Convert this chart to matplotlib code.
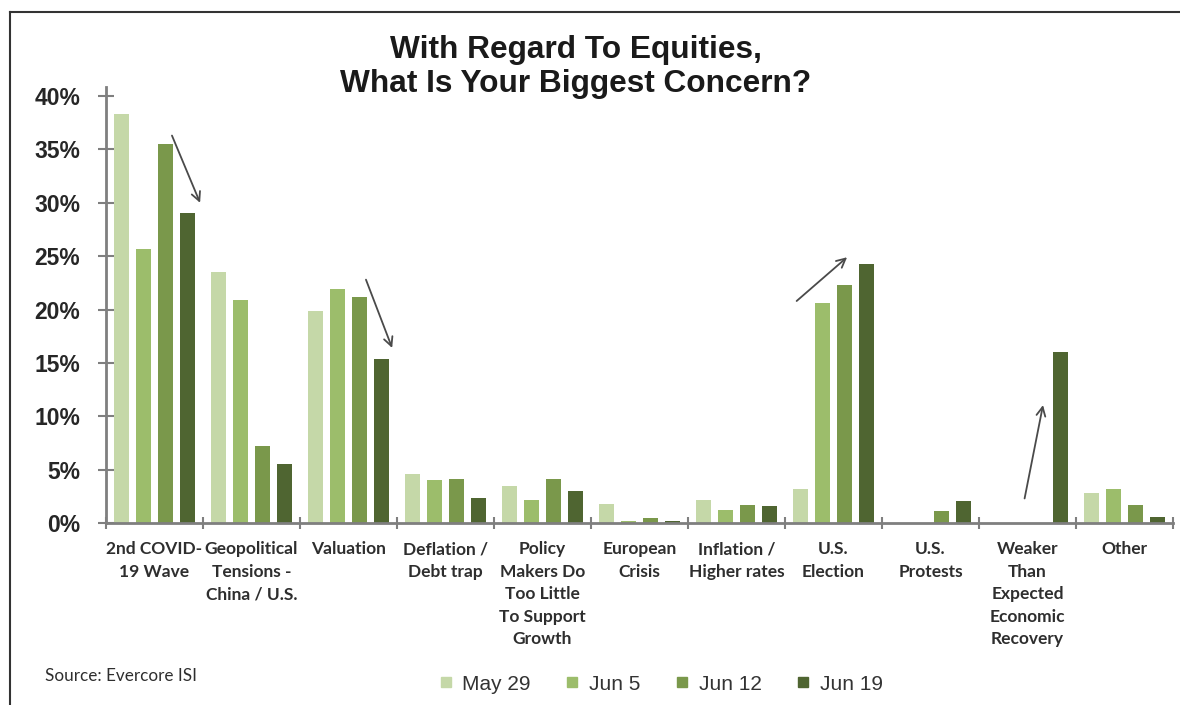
import numpy as np
import matplotlib
matplotlib.use("Agg")
import matplotlib.pyplot as plt
from matplotlib.lines import Line2D


categorias = ["2nd COVID-\n19 Wave", "Geopolitical\nTensions -\nChina / U.S.", "Valuation",
              "Deflation /\nDebt trap", "Policy\nMakers Do\nToo Little\nTo Support\nGrowth",
              "European\nCrisis", "Inflation /\nHigher rates", "U.S.\nElection",
              "U.S.\nProtests", "Weaker\nThan\nExpected\nEconomic\nRecovery", "Other"]

may29 = [38.3, 23.5, 19.9, 4.6, 3.5, 1.8, 2.2, 3.2, 0.0, 0.0, 2.8]
jun5 = [25.7, 20.9, 21.9, 4.0, 2.2, 0.2, 1.2, 20.6, 0.0, 0.0, 3.2]
jun12 = [35.5, 7.2, 21.2, 4.1, 4.1, 0.5, 1.7, 22.3, 1.1, 0.0, 1.7]
jun19 = [29.0, 5.5, 15.4, 2.3, 3.0, 0.15, 1.6, 24.3, 2.1, 16.0, 0.6]

serije = ["May 29", "Jun 5", "Jun 12", "Jun 19"]
boje = ["#c5d8a8", "#9cbd6b", "#7a984b", "#4f6531"]

# strelice (od -> do), u koordinatama podataka
strelice = [((0.18, 36.3), (0.47, 30.0)),
            ((2.18, 22.8), (2.45, 16.4)),
            ((6.62, 20.8), (7.14, 24.9)),
            ((8.97, 2.3), (9.16, 11.05))]

fig = plt.figure(figsize=(11.8, 7.05), dpi=100)
ax = fig.add_axes([106/1180, 1 - 523/705, (1173 - 106)/1180, (523 - 87)/705])

x = np.arange(len(categorias))
korak = 0.227
sirina = 0.155
for i, (vrijednosti, boja, naziv) in enumerate(zip([may29, jun5, jun12, jun19], boje, serije)):
    ax.bar(x + (i - 1.5)*korak, vrijednosti, width=sirina, color=boja, label=naziv, zorder=2)

for (x0, y0), (x1, y1) in strelice:
    ax.annotate("", xy=(x1, y1), xytext=(x0, y0),
                arrowprops=dict(arrowstyle="->", color="#4a4a4a", lw=1.3,
                                mutation_scale=16, shrinkA=0, shrinkB=0))

ax.set_xlim(-0.5, len(categorias) - 0.5)
ax.set_ylim(0, 40.85)
ax.set_yticks(np.arange(0, 41, 5))
ax.set_yticklabels([f"{v}%" for v in range(0, 41, 5)], fontsize=16.5,
                   fontweight="bold", family="Liberation Sans", color="#262626")
ax.tick_params(axis="y", direction="inout", length=11, width=1.5, color="#7f7f7f", pad=13)

ax.set_xticks(x)
ax.set_xticklabels(categorias, fontsize=12.5, fontweight="bold", family="Lato",
                   color="#2e2e2e", linespacing=1.5, va="top")
ax.tick_params(axis="x", length=0, pad=13)
ax.set_xticks(np.arange(-0.5, len(categorias)), minor=True)
ax.tick_params(axis="x", which="minor", direction="inout", length=9, width=1.5, color="#7f7f7f")

for s in ["top", "right"]:
    ax.spines[s].set_visible(False)
for s in ["left", "bottom"]:
    ax.spines[s].set_color("#7f7f7f")
    ax.spines[s].set_linewidth(2)

fig.text(576/1180, 1 - 67/705, "With Regard To Equities,\nWhat Is Your Biggest Concern?",
         ha="center", va="center", fontsize=22.8, fontweight="bold",
         family="Liberation Sans", color="#1a1a1a", linespacing=1.15)

fig.text(45/1180, 1 - 676/705, "Source: Evercore ISI", ha="left", va="center",
         fontsize=12.3, family="Lato", color="#2e2e2e")

rucke = [Line2D([], [], marker="s", linestyle="", markersize=6.5, color=b) for b in boje]
fig.legend(rucke, serije, loc="center", bbox_to_anchor=(659/1180, 1 - 684/705), ncol=4,
           frameon=False, prop={"family": "Liberation Sans", "size": 15},
           handletextpad=0.3, columnspacing=1.5, handlelength=1.0, labelcolor="#333333")

# okvir slike (gore i lijevo)
fig.add_artist(Line2D([10/1180, 1], [1 - 12/705, 1 - 12/705], color="#333333", lw=1.5,
                      transform=fig.transFigure))
fig.add_artist(Line2D([10/1180, 10/1180], [0, 1 - 12/705], color="#333333", lw=1.5,
                      transform=fig.transFigure))

fig.savefig("out.png", dpi=100, facecolor="white")
